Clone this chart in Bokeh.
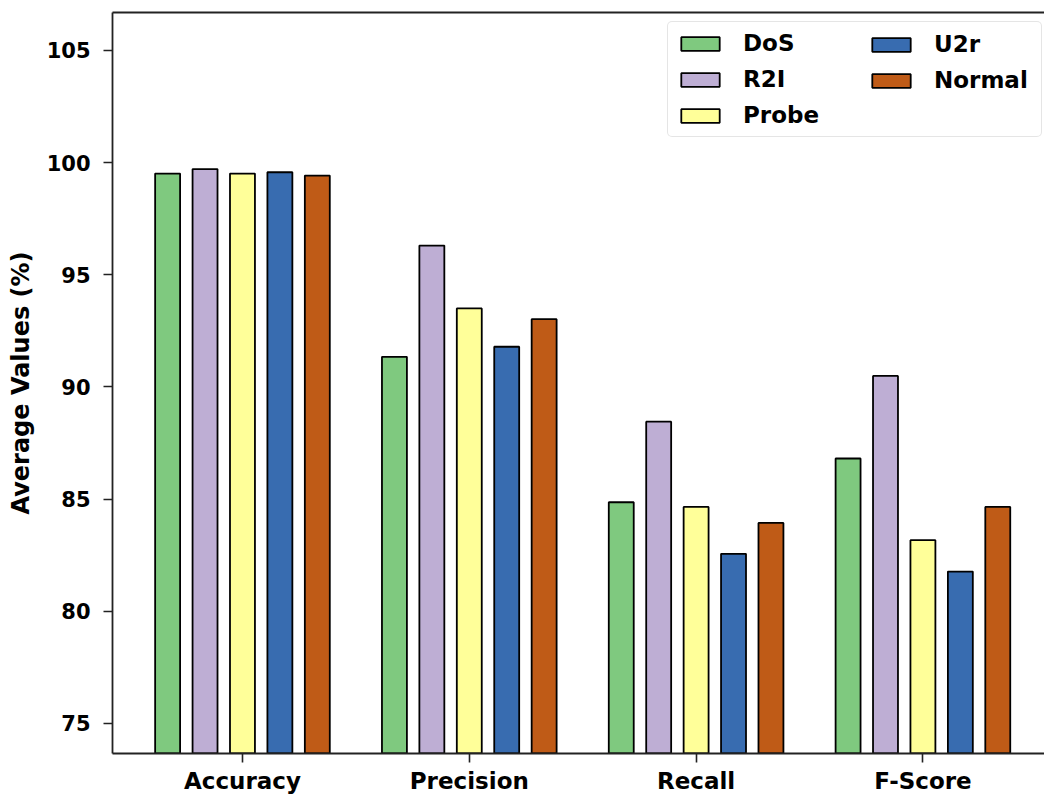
import numpy as np
from bokeh.plotting import figure
from bokeh.models import FixedTicker, LinearAxis, Range1d, Legend, LegendItem
from bokeh.embed import file_html
from bokeh.resources import INLINE

# Average metric values (%) per traffic class
metrics = ["Accuracy", "Precision", "Recall", "F-Score"]
classes = ["DoS", "R2I", "Probe", "U2r", "Normal"]
dos = [99.51, 91.34, 84.86, 86.81]
r2i = [99.71, 96.30, 88.45, 90.49]
probe = [99.51, 93.50, 84.65, 83.17]
u2r = [99.57, 91.79, 82.56, 81.77]
normal = [99.42, 93.02, 83.94, 84.65]
colors = ["#7fc97f", "#beaed4", "#ffff99", "#386cb0", "#bf5b17"]
y_ticks = [75, 80, 85, 90, 95, 100, 105]

FONT = "DejaVu Sans"
series = [dos, r2i, probe, u2r, normal]
group_x = np.arange(len(metrics))
step = 0.165
bar_w = 0.11

p = figure(width=1044, height=796,
           x_range=Range1d(-0.573, 3.536), y_range=Range1d(73.66, 106.69),
           min_border_left=112, min_border_right=0, min_border_top=12,
           min_border_bottom=42, output_backend="svg", toolbar_location=None,
           background_fill_color="white", border_fill_color="white")
p.outline_line_color = None
p.grid.visible = False

renderers = []
for i, (vals, col) in enumerate(zip(series, colors)):
    xs = group_x + (i - 2) * step
    r = p.vbar(x=xs, top=vals, bottom=0, width=bar_w, fill_color=col,
               line_color="black", line_width=1.8)
    renderers.append(r)

# axes
for ax in (p.xaxis[0], p.yaxis[0]):
    ax.axis_line_width = 1.8
    ax.axis_line_color = "#222222"
    ax.major_tick_line_width = 1.6
    ax.major_tick_line_color = "#222222"
    ax.major_tick_in = 0
    ax.major_tick_out = 9
    ax.minor_tick_line_color = None
    ax.major_label_text_font = FONT
    ax.major_label_text_font_style = "bold"
    ax.major_label_text_color = "black"

p.xaxis.ticker = FixedTicker(ticks=list(group_x))
p.xaxis.major_label_overrides = {int(k): m for k, m in zip(group_x, metrics)}
p.xaxis.major_label_text_font_size = "23px"
p.xaxis.major_label_standoff = 5

p.yaxis.ticker = FixedTicker(ticks=y_ticks)
p.yaxis.major_label_text_font_size = "21px"
p.yaxis.major_label_standoff = 13
p.yaxis.axis_label = "Average Values (%)"
p.yaxis.axis_label_text_font = FONT
p.yaxis.axis_label_text_font_style = "bold"
p.yaxis.axis_label_text_font_size = "24px"
p.yaxis.axis_label_standoff = 9
p.yaxis.axis_label_text_color = "black"

# top frame edge
top = LinearAxis(ticker=FixedTicker(ticks=[]), axis_line_width=1.8,
                 axis_line_color="#222222", major_tick_out=0, major_tick_in=0,
                 minor_tick_line_color=None, major_label_text_font_size="0px",
                 major_label_standoff=0)
p.add_layout(top, "above")


def make_legend(names, rends, loc, label_width, boxed):
    lg = Legend(items=[LegendItem(label=n, renderers=[r]) for n, r in zip(names, rends)],
                location=loc, orientation="vertical",
                label_text_font=FONT, label_text_font_style="bold",
                label_text_font_size="23px", label_text_color="black",
                glyph_width=48, glyph_height=17, label_height=26,
                label_width=label_width, label_standoff=19, spacing=10,
                padding=8, margin=0)
    if boxed:
        lg.border_line_color = "#cccccc"
        lg.border_line_width = 1.5
        lg.border_radius = 5
        lg.background_fill_alpha = 0.8
    else:
        lg.border_line_color = None
        lg.background_fill_alpha = 0
    return lg


# first column carries the frame; second column sits on top of it
p.add_layout(make_legend(classes[:3], renderers[:3], (555, 616), 290, True))
p.add_layout(make_legend(classes[3:], renderers[3:], (755, 660), 20, False))

open("out.html", "w").write(file_html(p, INLINE))
